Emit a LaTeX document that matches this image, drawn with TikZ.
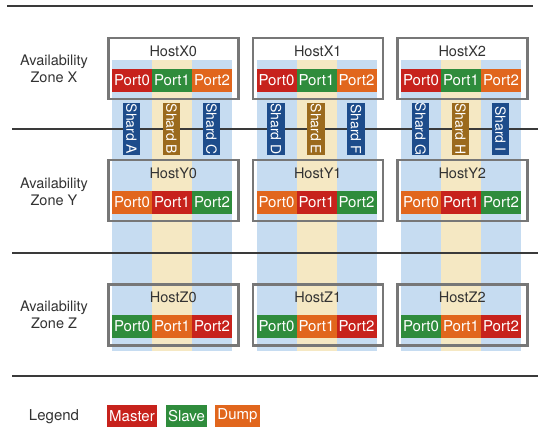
\documentclass[tikz,border=0pt]{standalone}
\usepackage{fontspec}
\setmainfont{TeX Gyre Heros}
\definecolor{mred}{HTML}{C7221C}
\definecolor{mgreen}{HTML}{2F8C3C}
\definecolor{morange}{HTML}{E1661D}
\definecolor{sblue}{HTML}{1D4C8B}
\definecolor{sbrown}{HTML}{9B6A1D}
\definecolor{cblue}{HTML}{C6DCF1}
\definecolor{cyellow}{HTML}{F5E8C3}
\definecolor{hgray}{HTML}{777777}
\definecolor{lgray}{HTML}{3A3A3A}
\definecolor{tgray}{HTML}{333333}
\begin{document}
\begin{tikzpicture}[x=1pt,y=-1pt,
  port/.style={minimum width=40pt,minimum height=23pt,inner sep=0pt,outer sep=0pt,text=white,anchor=north west,font=\fontsize{15}{15}\selectfont},
  hostbox/.style={draw=hgray,line width=2.5pt,minimum width=130pt,minimum height=61pt,inner sep=0pt,anchor=north west},
  hostlabel/.style={text=tgray,font=\fontsize{14.5}{14.5}\selectfont,inner sep=0pt},
  shard/.style={rotate=-90,minimum width=52pt,minimum height=17.5pt,inner sep=0pt,text=white,font=\fontsize{14}{14}\selectfont},
  column/.style={inner sep=0pt,outer sep=0pt,minimum width=40pt,minimum height=291pt,anchor=north west},
  sep/.style={draw=lgray,line width=1.5pt},
  zone/.style={text=tgray,align=center,font=\fontsize{14.5}{17}\selectfont},
  legbox/.style={minimum height=22pt,inner sep=0pt,text=white,font=\fontsize{15}{15}\selectfont}]
\useasboundingbox (0,0) rectangle (540,435);
% columns
\foreach \i in {0,1,2}{
  \pgfmathsetmacro{\xo}{112+144.5*\i}
  \node[column,fill=cblue] (colA\i) at (\xo,60) {};
  \node[column,fill=cyellow] (colB\i) at (\xo+40,60) {};
  \node[column,fill=cblue] (colC\i) at (\xo+80,60) {};
}
% separator lines
\coordinate (l1a) at (7,6);   \coordinate (l1b) at (533,6);
\coordinate (l2a) at (12,129); \coordinate (l2b) at (538,129);
\coordinate (l3a) at (12,253); \coordinate (l3b) at (538,253);
\coordinate (l4a) at (12,376); \coordinate (l4b) at (538,376);
\draw[sep] (l1a) -- (l1b);
\draw[sep] (l2a) -- (l2b);
\draw[sep] (l3a) -- (l3b);
\draw[sep] (l4a) -- (l4b);
% shards
\foreach \i/\a/\b/\c in {0/A/B/C,1/D/E/F,2/G/H/I}{
  \pgfmathsetmacro{\xo}{112+144.5*\i}
  \node[shard,fill=sblue] (shard\a) at (\xo+19.5,129) {Shard \a};
  \node[shard,fill=sbrown] (shard\b) at (\xo+59.5,129) {Shard \b};
  \node[shard,fill=sblue] (shard\c) at (\xo+99.5,129) {Shard \c};
}
% hosts
\foreach \r/\top/\pa/\pb/\pc in {X/37/mred/mgreen/morange,Y/159/morange/mred/mgreen,Z/283/mgreen/morange/mred}{
  \foreach \i in {0,1,2}{
    \pgfmathsetmacro{\xo}{107+144.5*\i}
    \node[hostbox] (host\r\i) at (\xo,\top) {};
    \node[hostlabel] (hl\r\i) at ([yshift=-14pt]host\r\i.north) {Host\r\i};
    \node[port,fill=\pa] (p\r\i a) at ([xshift=5pt,yshift=-32pt]host\r\i.north west) {Port0};
    \node[port,fill=\pb] (p\r\i b) at (p\r\i a.north east) {Port1};
    \node[port,fill=\pc] (p\r\i c) at (p\r\i b.north east) {Port2};
  }
}
% zone labels
\node[zone] (zX) at (54,68.5) {Availability\\Zone X};
\node[zone] (zY) at (54,191.5) {Availability\\Zone Y};
\node[zone] (zZ) at (54,314.5) {Availability\\Zone Z};
% legend
\node[text=tgray,font=\fontsize{15}{15}\selectfont] (leg) at (54,417) {Legend};
\node[legbox,fill=mred,minimum width=50pt] (lm) at (132,416) {Master};
\node[legbox,fill=mgreen,minimum width=41pt] (ls) at (186.5,416) {Slave};
\node[legbox,fill=morange,minimum width=45pt] (ld) at (237.5,416) {Dump};
\end{tikzpicture}
\end{document}
